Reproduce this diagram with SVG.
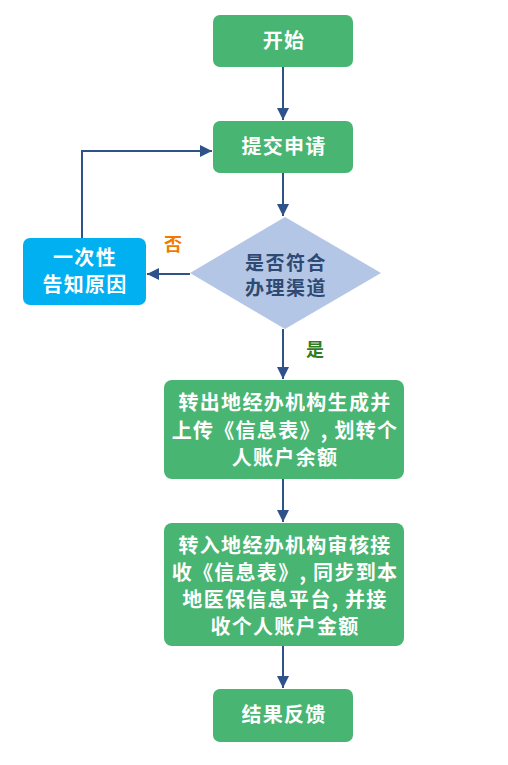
<svg xmlns="http://www.w3.org/2000/svg" width="508" height="765" viewBox="0 0 508 765">
<defs>
<marker id="ah" viewBox="0 0 10 10" refX="10" refY="5" markerWidth="12" markerHeight="12" markerUnits="userSpaceOnUse" orient="auto">
<path d="M0,0 L10,5 L0,10 z" fill="#2E5289"/>
</marker>
<style>
.g{fill:#48B572;}
.b{fill:#00B0F0;}
.d{fill:#B4C6E6;}
.t{font-family:"Noto Sans CJK SC","Noto Sans",sans-serif;font-weight:bold;font-size:20px;letter-spacing:1.3px;fill:#FFFFFF;text-anchor:middle;}
.dt{font-family:"Noto Sans CJK SC","Noto Sans",sans-serif;font-weight:bold;font-size:19px;letter-spacing:1.5px;fill:#2E4A72;text-anchor:middle;}
.c{stroke:#2E5289;stroke-width:2;fill:none;}
.lb{font-family:"Noto Sans CJK SC",sans-serif;font-weight:bold;font-size:18px;text-anchor:middle;}
</style>
</defs>
<rect width="508" height="765" fill="#FFFFFF"/>
<g id="connectors">
<line class="c" x1="283" y1="67" x2="283" y2="120" marker-end="url(#ah)"/>
<polyline class="c" points="82,238 82,151 212,151" marker-end="url(#ah)"/>
<line class="c" x1="283" y1="173" x2="283" y2="216" marker-end="url(#ah)"/>
<line class="c" x1="190" y1="274" x2="147" y2="274" marker-end="url(#ah)"/>
<line class="c" x1="283" y1="329" x2="283" y2="379" marker-end="url(#ah)"/>
<line class="c" x1="283" y1="479" x2="283" y2="522" marker-end="url(#ah)"/>
<line class="c" x1="283" y1="646" x2="283" y2="688" marker-end="url(#ah)"/>
<text class="lb" x="173" y="251" fill="#F07A00">否</text>
<text class="lb" x="315" y="356" fill="#2E7D1F">是</text>
</g>
<g id="start">
<rect class="g" x="213" y="15" width="140" height="52" rx="7"/>
<text class="t" x="284" y="48">开始</text>
</g>
<g id="submit">
<rect class="g" x="213" y="121" width="140" height="52" rx="7"/>
<text class="t" x="284" y="154">提交申请</text>
</g>
<g id="decision">
<polygon class="d" points="285,217 381,273 285,329 190,273"/>
<text class="dt" x="286" y="270">是否符合</text>
<text class="dt" x="286" y="295">办理渠道</text>
</g>
<g id="notify">
<rect class="b" x="23" y="238" width="123" height="67" rx="7"/>
<text class="t" x="85" y="265">一次性</text>
<text class="t" x="85" y="292">告知原因</text>
</g>
<g id="transfer-out">
<rect class="g" x="164" y="380" width="240" height="99" rx="8"/>
<text class="t" x="285" y="410">转出地经办机构生成并</text>
<text class="t" x="285" y="438">上传《信息表》, 划转个</text>
<text class="t" x="285" y="465">人账户余额</text>
</g>
<g id="transfer-in">
<rect class="g" x="164" y="523" width="240" height="123" rx="8"/>
<text class="t" x="285" y="553">转入地经办机构审核接</text>
<text class="t" x="285" y="580">收《信息表》, 同步到本</text>
<text class="t" x="285" y="607">地医保信息平台, 并接</text>
<text class="t" x="285" y="634">收个人账户金额</text>
</g>
<g id="result">
<rect class="g" x="213" y="689" width="140" height="53" rx="7"/>
<text class="t" x="284" y="722">结果反馈</text>
</g>
</svg>
